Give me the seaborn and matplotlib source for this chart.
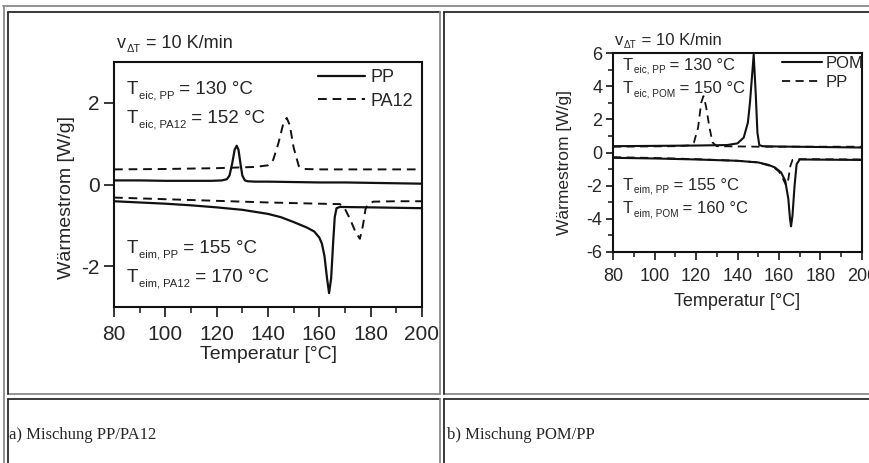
import matplotlib
matplotlib.use("Agg")
import matplotlib.pyplot as plt
from matplotlib.lines import Line2D
from matplotlib.ticker import MultipleLocator
import seaborn as sns

# ---- data ----
# a) PP / PA12
pp_cool_x = [80, 90, 100, 110, 118, 122, 124, 125, 126, 127, 127.8, 128.5, 129.3, 130, 131, 132, 135, 140, 150, 160, 170, 180, 190, 200]
pp_cool_y = [0.10, 0.10, 0.09, 0.09, 0.09, 0.10, 0.13, 0.22, 0.50, 0.85, 0.95, 0.85, 0.50, 0.22, 0.10, 0.08, 0.07, 0.07, 0.06, 0.05, 0.05, 0.04, 0.03, 0.02]
pa12_cool_x = [80, 100, 120, 135, 140, 142, 144, 146, 147.3, 148.5, 150, 152, 154, 160, 180, 200]
pa12_cool_y = [0.37, 0.38, 0.40, 0.43, 0.47, 0.60, 1.00, 1.50, 1.63, 1.45, 0.90, 0.45, 0.38, 0.37, 0.37, 0.37]
pp_heat_x = [80, 90, 100, 110, 120, 130, 140, 145, 150, 155, 158, 160, 161, 162, 163, 163.8, 164.6, 165.4, 166, 166.7, 168, 180, 200]
pp_heat_y = [-0.41, -0.44, -0.47, -0.51, -0.56, -0.62, -0.72, -0.80, -0.92, -1.05, -1.15, -1.30, -1.45, -1.75, -2.30, -2.66, -2.30, -1.40, -0.80, -0.58, -0.55, -0.56, -0.58]
pa12_heat_x = [80, 100, 120, 140, 160, 168, 170, 172, 174, 175.8, 177, 178, 179, 181, 190, 200]
pa12_heat_y = [-0.32, -0.36, -0.40, -0.44, -0.47, -0.48, -0.60, -0.85, -1.15, -1.33, -1.00, -0.60, -0.48, -0.42, -0.41, -0.41]

# b) POM / PP
pom_cool_x = [80, 100, 120, 135, 140, 143, 145, 146, 147, 147.8, 148.8, 149.6, 150.5, 152, 160, 180, 200]
pom_cool_y = [0.38, 0.40, 0.42, 0.45, 0.55, 0.90, 1.80, 3.00, 4.60, 5.90, 3.50, 1.20, 0.45, 0.38, 0.36, 0.33, 0.30]
pp2_cool_x = [80, 110, 116, 119, 121, 122.5, 123.6, 124.8, 126.5, 128, 130, 150, 200]
pp2_cool_y = [0.35, 0.38, 0.42, 0.60, 1.50, 3.00, 3.40, 2.80, 1.50, 0.60, 0.38, 0.35, 0.35]
pom_heat_x = [80, 100, 120, 140, 150, 155, 158, 161, 163, 164.5, 165.3, 165.8, 166.5, 167.5, 168.5, 170, 180, 200]
pom_heat_y = [-0.32, -0.36, -0.42, -0.50, -0.60, -0.75, -0.90, -1.20, -1.70, -2.80, -4.00, -4.45, -3.80, -2.00, -0.70, -0.42, -0.43, -0.45]
pp2_heat_x = [80, 100, 120, 140, 150, 155, 158, 160, 162, 163.5, 164.5, 165.5, 166.5, 170, 200]
pp2_heat_y = [-0.28, -0.33, -0.40, -0.50, -0.60, -0.78, -0.95, -1.15, -1.60, -2.00, -1.60, -0.80, -0.45, -0.40, -0.42]

# onset temperature annotations: (subscript, value)
notes_a = [("eic, PP", "130"), ("eic, PA12", "152"), ("eim, PP", "155"), ("eim, PA12", "170")]
notes_b = [("eic, PP", "130"), ("eic, POM", "150"), ("eim, PP", "155"), ("eim, POM", "160")]
captions = ["a) Mischung PP/PA12", "b) Mischung POM/PP"]

W, H = 870, 463

sns.set_style("white")
plt.rcParams["font.family"] = ["Liberation Sans", "DejaVu Sans"]
plt.rcParams["axes.unicode_minus"] = False
plt.rcParams["xtick.direction"] = "out"
plt.rcParams["ytick.direction"] = "out"

fig = plt.figure(figsize=(W / 100, H / 100), dpi=100)
fig.patch.set_facecolor("white")


def px_axes(left, top, right, bottom):
    return fig.add_axes([left / W, 1 - bottom / H, (right - left) / W, (bottom - top) / H])


def hline(y, x0, x1, c):
    fig.add_artist(Line2D([x0 / W, x1 / W], [1 - y / H, 1 - y / H], transform=fig.transFigure, color=c, lw=1.3))


def vline(x, y0, y1, c):
    fig.add_artist(Line2D([x / W, x / W], [1 - y0 / H, 1 - y1 / H], transform=fig.transFigure, color=c, lw=1.3))


# table borders
gray, dark = "#8a8a8a", "#2a2a2a"
hline(6, 3, W, gray)
vline(4, 6, H, gray)
for x0, x1 in [(8, 440), (444, W)]:
    hline(12, x0, x1, dark)
    hline(394, x0, x1, gray)
    hline(399, x0, x1, dark)
vline(8, 12, 394, dark)
vline(8, 399, H, dark)
vline(440, 12, 394, gray)
vline(440, 399, H, gray)
vline(444, 12, 394, dark)
vline(444, 399, H, dark)

dash = (0, (4.5, 3))


def style_axes(ax, ylim, yminor, tsize, xlen, ylen, xpad, ypad, ylab_xy, xlab_xy, xl_size, yl_size):
    ax.set_xlim(80, 200)
    ax.set_ylim(*ylim)
    ax.xaxis.set_major_locator(MultipleLocator(20))
    ax.xaxis.set_minor_locator(MultipleLocator(10))
    ax.yaxis.set_major_locator(MultipleLocator(2))
    if yminor:
        ax.yaxis.set_minor_locator(MultipleLocator(yminor))
    ax.tick_params(axis="x", which="major", length=xlen, width=1.3, labelsize=tsize, pad=xpad, bottom=True)
    ax.tick_params(axis="y", which="major", length=ylen, width=1.3, labelsize=tsize, pad=ypad, left=True)
    ax.tick_params(which="minor", length=xlen * 0.6, width=1.2, bottom=True, left=True)
    for s in ax.spines.values():
        s.set_color("#111111")
        s.set_linewidth(1.5)
    ax.set_xlabel("Temperatur [°C]", fontsize=xl_size)
    ax.set_ylabel("Wärmestrom [W/g]", fontsize=yl_size)
    ax.yaxis.set_label_coords(*ylab_xy)
    ax.xaxis.set_label_coords(*xlab_xy)


def sub_text(ax, x, y, main, sub, rest, size):
    # main letter, small lowered subscript, then the rest of the line on the same baseline
    t1 = ax.text(x, y, main, transform=ax.transAxes, fontsize=size, va="baseline")
    t2 = ax.annotate(sub, xy=(1, 0), xycoords=t1, xytext=(0.3, 0), textcoords="offset points",
                     fontsize=size * 0.6, va="baseline")
    ax.annotate(rest, xy=(1, 0), xycoords=(t2, t1), fontsize=size, va="bottom")


# ---- a) PP / PA12 ----
ax1 = px_axes(114, 62, 422, 307)
sns.lineplot(x=pp_cool_x, y=pp_cool_y, ax=ax1, color="#111111", lw=1.6, estimator=None, label="PP")
sns.lineplot(x=pa12_cool_x, y=pa12_cool_y, ax=ax1, color="#111111", lw=1.4, linestyle=dash, estimator=None, label="PA12")
sns.lineplot(x=pp_heat_x, y=pp_heat_y, ax=ax1, color="#111111", lw=1.6, estimator=None)
sns.lineplot(x=pa12_heat_x, y=pa12_heat_y, ax=ax1, color="#111111", lw=1.4, linestyle=dash, estimator=None)
style_axes(ax1, (-3, 3), None, 15, 7, 7.5, 6, 3, (-0.127, 0.445), (0.5, -0.16), 14, 14)
ax1.legend(loc="upper left", bbox_to_anchor=(0.662, 0.97), frameon=False, fontsize=13,
           handlelength=2.6, handletextpad=0.3, borderpad=0, borderaxespad=0, labelspacing=0.35)
sub_text(ax1, 0.01, 1.057, "v", "ΔT", " = 10 K/min", 13)
for (sub, val), ypos in zip(notes_a, [0.869, 0.751, 0.220, 0.102]):
    sub_text(ax1, 0.042, ypos, "T", sub, " = " + val + " °C", 13.5)

# ---- b) POM / PP ----
ax2 = px_axes(613, 53, 862, 252)
sns.lineplot(x=pom_cool_x, y=pom_cool_y, ax=ax2, color="#111111", lw=1.5, estimator=None, label="POM")
sns.lineplot(x=pp2_cool_x, y=pp2_cool_y, ax=ax2, color="#111111", lw=1.3, linestyle=dash, estimator=None, label="PP")
sns.lineplot(x=pom_heat_x, y=pom_heat_y, ax=ax2, color="#111111", lw=1.5, estimator=None)
sns.lineplot(x=pp2_heat_x, y=pp2_heat_y, ax=ax2, color="#111111", lw=1.3, linestyle=dash, estimator=None)
style_axes(ax2, (-6, 6), 1, 13, 5.5, 5, 6, 2.5, (-0.165, 0.452), (0.5, -0.206), 13, 12.5)
ax2.legend(loc="upper left", bbox_to_anchor=(0.679, 0.985), frameon=False, fontsize=12,
           handlelength=2.4, handletextpad=0.2, borderpad=0, borderaxespad=0, labelspacing=0.25)
sub_text(ax2, 0.008, 1.04, "v", "ΔT", " = 10 K/min", 12)
for (sub, val), ypos in zip(notes_b, [0.915, 0.797, 0.312, 0.194]):
    sub_text(ax2, 0.04, ypos, "T", sub, " = " + val + " °C", 12)

# captions
serif = ["Liberation Serif", "DejaVu Serif"]
fig.text(9 / W, 1 - 439 / H, captions[0], fontsize=12, family=serif, va="baseline")
fig.text(447 / W, 1 - 439 / H, captions[1], fontsize=12, family=serif, va="baseline")

fig.savefig("out.png", dpi=100)
